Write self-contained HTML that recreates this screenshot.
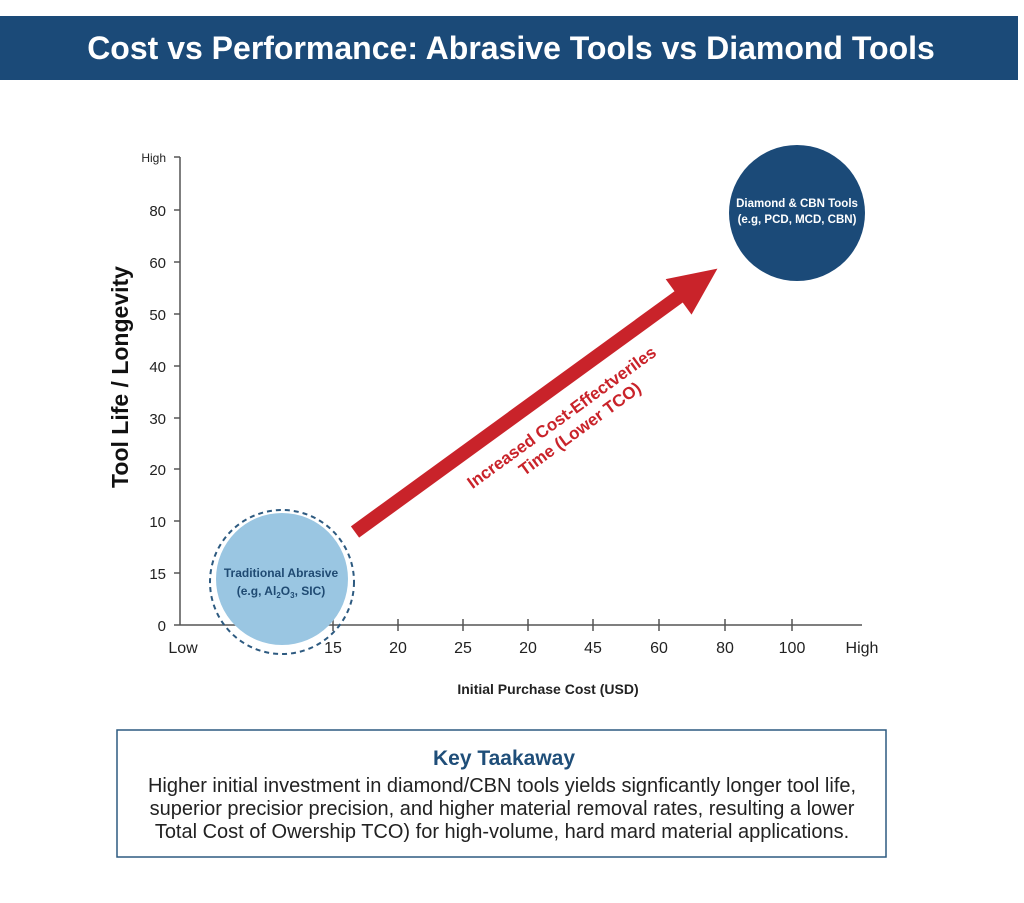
<!DOCTYPE html>
<html><head><style>
body{margin:0;background:#fff;width:1024px;height:898px;overflow:hidden;font-family:"Liberation Sans",sans-serif}
</style></head><body>
<svg width="1024" height="898" xmlns="http://www.w3.org/2000/svg" font-family="Liberation Sans, sans-serif">
<rect x="0" y="16" width="1018" height="64" fill="#1b4a78"/>
<text x="511" y="59" text-anchor="middle" fill="#fff" font-size="32" font-weight="bold">Cost vs Performance: Abrasive Tools vs Diamond Tools</text>
<g stroke="#555" stroke-width="1.5">
<line x1="180" y1="157" x2="180" y2="625"/>
<line x1="180" y1="625" x2="862" y2="625"/>
<line x1="174" y1="157" x2="180" y2="157"/><line x1="174" y1="210" x2="180" y2="210"/><line x1="174" y1="262" x2="180" y2="262"/><line x1="174" y1="314" x2="180" y2="314"/><line x1="174" y1="366" x2="180" y2="366"/><line x1="174" y1="418" x2="180" y2="418"/><line x1="174" y1="469" x2="180" y2="469"/><line x1="174" y1="521" x2="180" y2="521"/><line x1="174" y1="573" x2="180" y2="573"/><line x1="174" y1="625" x2="180" y2="625"/>
<line x1="333" y1="619" x2="333" y2="631"/><line x1="398" y1="619" x2="398" y2="631"/><line x1="463" y1="619" x2="463" y2="631"/><line x1="528" y1="619" x2="528" y2="631"/><line x1="593" y1="619" x2="593" y2="631"/><line x1="659" y1="619" x2="659" y2="631"/><line x1="725" y1="619" x2="725" y2="631"/><line x1="792" y1="619" x2="792" y2="631"/>
</g>
<g font-size="15" fill="#222" text-anchor="end">
<text x="166" y="162" font-size="12">High</text><text x="166" y="216">80</text><text x="166" y="268">60</text><text x="166" y="320">50</text><text x="166" y="372">40</text><text x="166" y="424">30</text><text x="166" y="475">20</text><text x="166" y="527">10</text><text x="166" y="579">15</text><text x="166" y="631">0</text>
</g>
<g font-size="16" fill="#222" text-anchor="middle">
<text x="183" y="653">Low</text><text x="333" y="653">15</text><text x="398" y="653">20</text><text x="463" y="653">25</text><text x="528" y="653">20</text><text x="593" y="653">45</text><text x="659" y="653">60</text><text x="725" y="653">80</text><text x="792" y="653">100</text><text x="862" y="653">High</text>
</g>
<text x="548" y="694" text-anchor="middle" font-size="14" font-weight="bold" fill="#222">Initial Purchase Cost (USD)</text>
<text transform="translate(128,377) rotate(-90)" text-anchor="middle" font-size="23" font-weight="bold" fill="#111">Tool Life / Longevity</text>
<circle cx="282" cy="582" r="72" fill="none" stroke="#2d5a80" stroke-width="2" stroke-dasharray="5,4"/>
<circle cx="282" cy="579" r="66" fill="#9ac6e2"/>
<text x="281" y="577" text-anchor="middle" font-size="12" font-weight="bold" fill="#1f4a72">Traditional Abrasive</text>
<text x="281" y="595" text-anchor="middle" font-size="12" font-weight="bold" fill="#1f4a72">(e.g, Al<tspan font-size="8" dy="3">2</tspan><tspan dy="-3">O</tspan><tspan font-size="8" dy="3">3</tspan><tspan dy="-3">, SIC)</tspan></text>
<circle cx="797" cy="213" r="68" fill="#1b4a78"/>
<text x="797" y="207" text-anchor="middle" font-size="11.5" font-weight="bold" fill="#fff">Diamond &amp; CBN Tools</text>
<text x="797" y="223" text-anchor="middle" font-size="11.5" font-weight="bold" fill="#fff">(e.g, PCD, MCD, CBN)</text>
<g transform="translate(355,532) rotate(-36)">
<rect x="0" y="-7" width="410" height="14" fill="#c9232a"/>
<polygon points="400,-22 448,0 400,22" fill="#c9232a"/>
</g>
<g transform="translate(565,422) rotate(-36)" fill="#c9232a" font-size="17" font-weight="bold" text-anchor="middle">
<text x="0" y="0">Increased Cost-Effectveriles</text>
<text x="8" y="20">Time (Lower TCO)</text>
</g>
<rect x="117" y="730" width="769" height="127" fill="#fff" stroke="#2d5a80" stroke-width="1.5"/>
<text x="504" y="765" text-anchor="middle" font-size="21" font-weight="bold" fill="#1f4e79">Key Taakaway</text>
<g font-size="20" fill="#222" text-anchor="middle">
<text x="502" y="792">Higher initial investment in diamond/CBN tools yields signficantly longer tool life,</text>
<text x="502" y="815">superior precisior precision, and higher material removal rates, resulting a lower</text>
<text x="502" y="838">Total Cost of Owership TCO) for high-volume, hard mard material applications.</text>
</g>
</svg>
</body></html>
